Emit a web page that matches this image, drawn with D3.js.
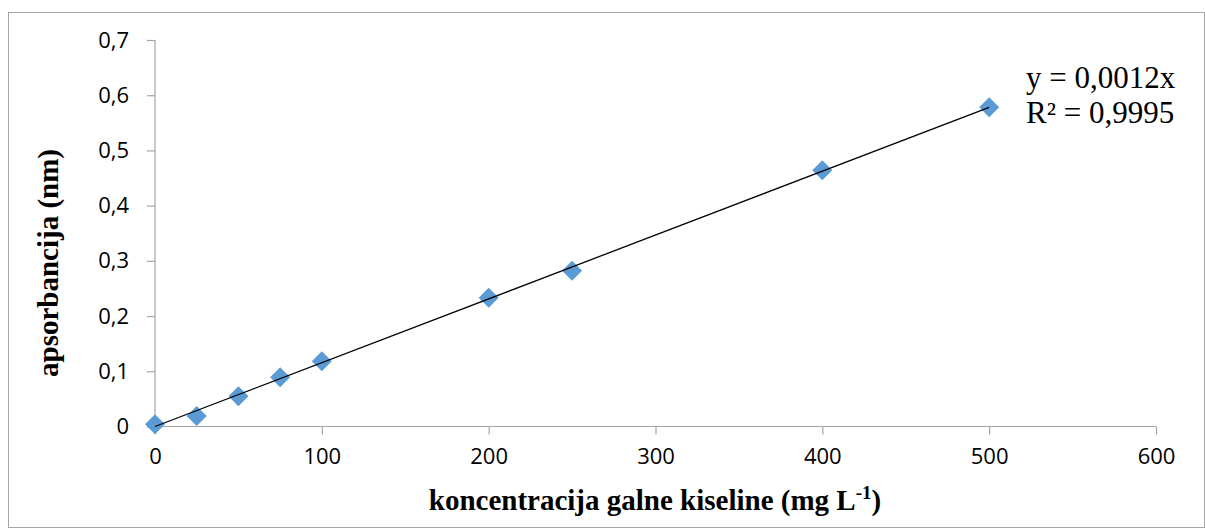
<!DOCTYPE html>
<html><head><meta charset="utf-8">
<script src="https://cdn.jsdelivr.net/npm/d3@7/dist/d3.min.js"></script>
<style>body{margin:0;background:#fff}svg{display:block}</style>
</head><body>
<script>
const concentrations = [0, 25, 50, 75, 100, 200, 250, 400, 500];
const absorbances = [0.004, 0.019, 0.055, 0.089, 0.118, 0.233, 0.282, 0.464, 0.578];
const xTicks = [0, 100, 200, 300, 400, 500, 600];
const yTicks = [0, 0.1, 0.2, 0.3, 0.4, 0.5, 0.6, 0.7];
const trendSlope = 0.001156;
const equationLines = ["y = 0,0012x", "R² = 0,9995"];
const xTitle = "koncentracija galne kiseline (mg L";
const yTitle = "apsorbancija (nm)";

const W = 1205, H = 529;
const svg = d3.select("body").append("svg").attr("width", W).attr("height", H);
svg.append("rect").attr("x", 8.5).attr("y", 12.5).attr("width", 1196).attr("height", 515)
  .attr("fill", "#fff").attr("stroke", "#a6a6a6").attr("stroke-width", 1);

const x = d3.scaleLinear().domain([0, 600]).range([155, 1156]);
const y = d3.scaleLinear().domain([0, 0.7]).range([426.5, 40]);
const fmt = d => String(d).replace(".", ",");

const xAxis = svg.append("g").attr("transform", `translate(0,${y(0)})`)
  .call(d3.axisBottom(x).tickValues(xTicks).tickSize(8).tickPadding(14).tickFormat(fmt));
const yAxis = svg.append("g").attr("transform", `translate(${x(0)},0)`)
  .call(d3.axisLeft(y).tickValues(yTicks).tickSize(8).tickPadding(18).tickFormat(fmt));
[xAxis, yAxis].forEach(g => {
  g.selectAll("path, line").attr("stroke", "#a6a6a6").attr("stroke-width", 1.2);
  g.selectAll("text").attr("fill", "#000").style("font-family", "'Open Sans', 'Noto Sans', sans-serif").style("font-size", "22px");
});
xAxis.select(".domain").attr("d", `M${x(0)},0H${x(600)}`);
yAxis.select(".domain").attr("d", `M0,${y(0)}V${y(0.7)}`);

// markers
svg.append("g").selectAll("path").data(concentrations).join("path")
  .attr("transform", (d, i) => `translate(${x(d)},${y(absorbances[i])}) rotate(45)`)
  .attr("d", d3.symbol().type(d3.symbolSquare).size(200)())
  .attr("fill", "#5b9bd5");

// trendline
svg.append("line")
  .attr("x1", x(0)).attr("y1", y(0))
  .attr("x2", x(500)).attr("y2", y(trendSlope * 500))
  .attr("stroke", "#000").attr("stroke-width", 1.3);

// equation
const eq = svg.append("text")
  .style("font-family", "'Liberation Serif', 'Times New Roman', serif").style("font-size", "31px").attr("fill", "#000");
equationLines.forEach((t, i) => eq.append("tspan").attr("x", 1026).attr("y", 88 + i * 35).text(t));

// axis titles
const xt = svg.append("text").attr("x", 655).attr("y", 510).attr("text-anchor", "middle")
  .style("font-family", "'Liberation Serif', 'Times New Roman', serif").style("font-size", "29px")
  .style("font-weight", "bold").attr("fill", "#000");
xt.append("tspan").text(xTitle);
xt.append("tspan").attr("dy", -11).style("font-size", "19px").text("-1");
xt.append("tspan").attr("dy", 11).text(")");

svg.append("text").attr("transform", `translate(58,263) rotate(-90)`).attr("text-anchor", "middle")
  .style("font-family", "'Liberation Serif', 'Times New Roman', serif").style("font-size", "29px")
  .style("font-weight", "bold").attr("fill", "#000").text(yTitle);
</script>
</body></html>
